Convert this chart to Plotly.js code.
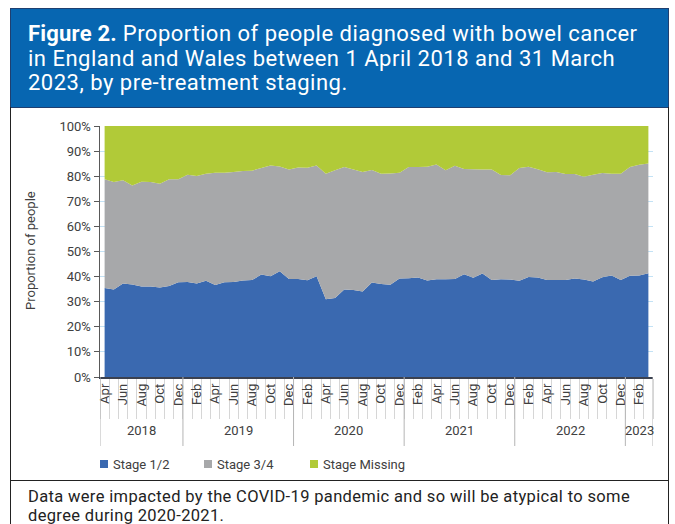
<!DOCTYPE html>
<html>
<head>
<meta charset="utf-8">
<script src="https://cdn.plot.ly/plotly-3.0.1.min.js"></script>
<style>
  body { margin: 0; background: #fff; }
  #wrap { position: relative; width: 675px; height: 524px; overflow: hidden; font-family: Roboto, "Noto Sans", sans-serif; }
  #header { position: absolute; left: 10px; top: 8px; width: 659px; height: 100px; box-sizing: border-box;
            background: #0766b1; border: 1px solid #1f3f70; color: #fff; font-size: 22px; line-height: 24.5px;
            padding: 13px 0 0 17px; letter-spacing: 0.5px; white-space: nowrap; }
  #header b { font-weight: 700; letter-spacing: 0.2px; }
  #chart { position: absolute; left: 0; top: 0; width: 675px; height: 524px; }
  .vline { position: absolute; width: 1px; background: #222; }
  .hline { position: absolute; height: 1px; background: #222; }
  #footer { position: absolute; left: 28px; top: 487px; color: #222; font-size: 16.5px; line-height: 19px;
            letter-spacing: 0.35px; white-space: nowrap; }
</style>
</head>
<body>
<div id="wrap">
  <div id="chart"></div>
  <div id="header"><b>Figure 2.</b> Proportion of people diagnosed with bowel cancer<br>in England and Wales between 1 April 2018 and 31 March<br>2023, by pre-treatment staging.</div>
  <div class="vline" style="left:10px;top:107px;height:417px;"></div>
  <div class="vline" style="left:668px;top:107px;height:417px;"></div>
  <div class="hline" style="left:10px;top:480px;width:659px;"></div>
  <div id="footer">Data were impacted by the COVID-19 pandemic and so will be atypical to some<br>degree during 2020-2021.</div>
</div>
<script>
// ---- data (Apr 2018 – Mar 2023, monthly) ----
const monthNames = ['Apr','May','Jun','Jul','Aug','Sep','Oct','Nov','Dec','Jan','Feb','Mar',
                    'Apr','May','Jun','Jul','Aug','Sep','Oct','Nov','Dec','Jan','Feb','Mar',
                    'Apr','May','Jun','Jul','Aug','Sep','Oct','Nov','Dec','Jan','Feb','Mar',
                    'Apr','May','Jun','Jul','Aug','Sep','Oct','Nov','Dec','Jan','Feb','Mar',
                    'Apr','May','Jun','Jul','Aug','Sep','Oct','Nov','Dec','Jan','Feb','Mar'];
const yearOf = [2018,2018,2018,2018,2018,2018,2018,2018,2018,
                2019,2019,2019,2019,2019,2019,2019,2019,2019,2019,2019,2019,
                2020,2020,2020,2020,2020,2020,2020,2020,2020,2020,2020,2020,
                2021,2021,2021,2021,2021,2021,2021,2021,2021,2021,2021,2021,
                2022,2022,2022,2022,2022,2022,2022,2022,2022,2022,2022,2022,
                2023,2023,2023];
const stage12 = [35.5,34.9,37.3,36.9,36.1,36.1,35.7,36.3,37.7,37.8,37.3,38.3,
                 36.7,37.7,37.8,38.4,38.6,40.8,40.1,42.1,39.0,39.0,38.5,40.1,
                 31.0,31.5,34.9,34.7,34.1,37.6,37.1,36.8,39.2,39.3,39.6,38.4,
                 38.9,38.9,39.0,40.9,39.5,41.2,38.6,38.9,38.8,38.3,39.8,39.6,
                 38.6,38.6,38.6,39.2,38.8,38.0,39.7,40.4,38.6,40.3,40.4,41.3];
const stage34 = [43.3,42.8,41.1,39.4,41.7,41.6,41.3,42.5,41.1,42.8,42.8,42.7,
                 44.7,43.7,43.9,43.7,43.6,42.5,44.2,41.8,43.7,44.5,44.9,44.2,
                 50.0,50.9,48.8,48.0,47.6,44.9,43.9,44.3,42.2,44.4,44.1,45.4,
                 45.8,43.5,45.2,42.0,43.3,41.5,44.1,41.6,41.6,45.0,44.0,43.2,
                 43.0,43.1,42.3,41.7,41.0,42.6,41.6,40.6,42.4,43.4,44.2,43.8];
const stageMissing = [21.2,22.3,21.6,23.7,22.2,22.3,23.0,21.2,21.2,19.4,19.9,19.0,
                      18.6,18.6,18.3,17.9,17.8,16.7,15.7,16.1,17.3,16.5,16.6,15.7,
                      19.0,17.6,16.3,17.3,18.3,17.5,19.0,18.9,18.6,16.3,16.3,16.2,
                      15.3,17.6,15.8,17.1,17.2,17.3,17.3,19.5,19.6,16.7,16.2,17.2,
                      18.4,18.3,19.1,19.1,20.2,19.4,18.7,19.0,19.0,16.3,15.4,14.9];
const seriesNames = ['Stage 1/2','Stage 3/4','Stage Missing'];
const seriesColors = ['#3a69b0','#a7a8aa','#b1ca38'];

// ---- layout geometry ----
const W = 675, H = 524;
const M = {l: 100, r: 22, t: 126, b: 147};
const pw = W - M.l - M.r, ph = H - M.t - M.b;
const px2x = p => (p - M.l) / pw;
const py2y = p => (H - M.b - p) / ph;

const idx = monthNames.map((_, i) => i);
const seriesData = [stage12, stage34, stageMissing];
const traces = seriesData.map((vals, k) => ({
  type: 'scatter', x: idx, y: vals, name: seriesNames[k],
  stackgroup: 'one', mode: 'none', fillcolor: seriesColors[k],
  hoverinfo: 'skip', showlegend: false
}));

// tick labels every second month
const tickIdx = idx.filter(i => i % 2 === 0);
const tickText = tickIdx.map(i => monthNames[i]);
const boundaries = [...idx.map(i => i - 0.5), idx.length - 0.5];

// year groups
const yearsList = [...new Set(yearOf)];
const shapes = [];
const annotations = [];
const yearEdges = [-0.5];
yearsList.forEach(y => {
  const first = yearOf.indexOf(y), last = yearOf.lastIndexOf(y);
  yearEdges.push(last + 0.5);
  annotations.push({xref: 'x', yref: 'paper', x: (first + last) / 2, y: py2y(430),
    text: String(y), showarrow: false, font: {size: 13, color: '#404040'}, yanchor: 'middle'});
});
yearEdges.forEach(e => shapes.push({type: 'line', xref: 'x', yref: 'paper', x0: e, x1: e,
  y0: 0, y1: py2y(446), line: {color: '#b5b5b5', width: 1}}));

// y-axis title
annotations.push({xref: 'paper', yref: 'paper', x: px2x(30), y: py2y(251), text: 'Proportion of people',
  textangle: -90, showarrow: false, font: {size: 13, color: '#404040'}, xanchor: 'center', yanchor: 'middle'});

// legend (manual)
const legX = [100, 204, 310];
seriesNames.forEach((n, k) => {
  shapes.push({type: 'rect', xref: 'paper', yref: 'paper', x0: px2x(legX[k]), x1: px2x(legX[k] + 8),
    y0: py2y(468), y1: py2y(460), fillcolor: seriesColors[k], line: {width: 0}});
  annotations.push({xref: 'paper', yref: 'paper', x: px2x(legX[k] + 11), y: py2y(464), text: n,
    showarrow: false, xanchor: 'left', yanchor: 'middle', font: {size: 13, color: '#404040'}});
});

const layout = {
  width: W, height: H, margin: M,
  paper_bgcolor: 'rgba(0,0,0,0)', plot_bgcolor: '#fff',
  font: {family: 'Roboto, "Noto Sans", sans-serif', color: '#404040'},
  showlegend: false,
  xaxis: {
    range: [-0.5, idx.length - 0.5], tickmode: 'array', tickvals: tickIdx, ticktext: tickText,
    tickangle: -90, ticks: '', showgrid: false, zeroline: false, showline: true,
    linecolor: '#3b4150', linewidth: 1.5, tickfont: {size: 13, color: '#404040'},
    minor: {tickmode: 'array', tickvals: boundaries, ticks: 'outside', ticklen: 40,
            tickcolor: '#d6d6d6', tickwidth: 1, showgrid: false}
  },
  yaxis: {
    range: [0, 100], dtick: 10, ticksuffix: '%', showgrid: true, gridcolor: '#c3e2f5',
    zeroline: false, showline: true, linecolor: '#595959', linewidth: 1.5,
    ticks: 'outside', ticklen: 5, tickcolor: '#595959', tickfont: {size: 13, color: '#404040'}
  },
  shapes: shapes, annotations: annotations
};

Plotly.newPlot('chart', traces, layout, {displayModeBar: false, staticPlot: true});
</script>
</body>
</html>
